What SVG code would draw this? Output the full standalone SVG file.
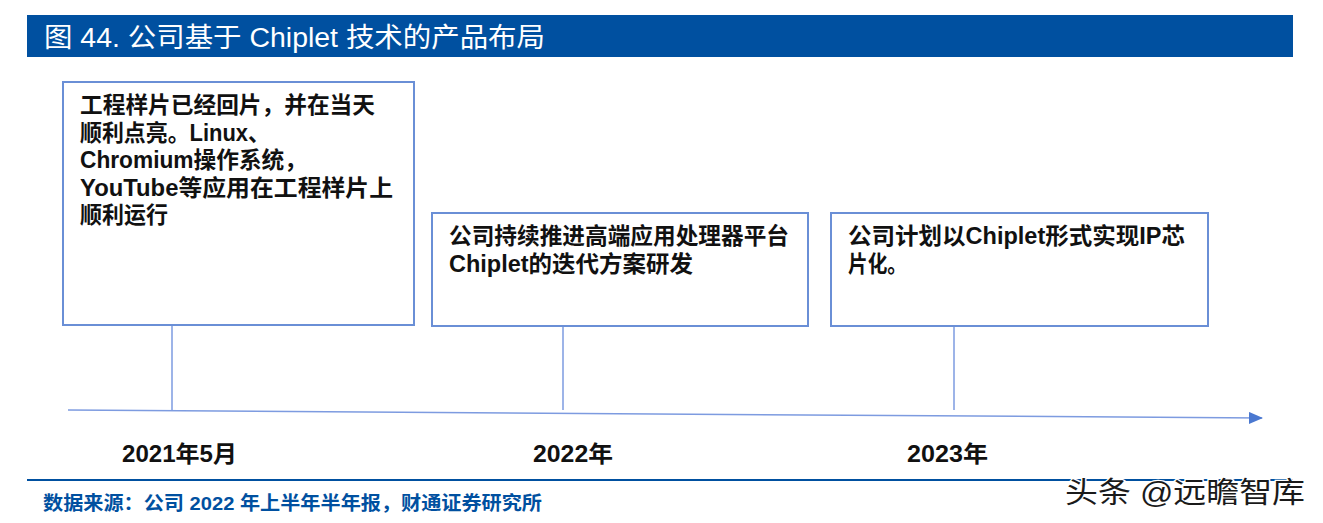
<svg xmlns="http://www.w3.org/2000/svg" width="1323" height="523" viewBox="0 0 1323 523">
<style>
text{font-family:"Liberation Sans","Noto Sans CJK SC",sans-serif}
.box{fill:#fff;stroke:#6a8fd6;stroke-width:2}
.t{font-size:23px;font-weight:bold;fill:#111}
.yr{font-size:23px;font-weight:bold;fill:#111}
.con{stroke:#7d9be0;stroke-width:1.5;fill:none}
</style>
<defs>
<marker id="arr" markerWidth="14" markerHeight="12" refX="13" refY="6" orient="auto" markerUnits="userSpaceOnUse">
<path d="M0,0 L14,6 L0,12 Z" fill="#4a78d0"/>
</marker>
</defs>
<rect x="27" y="15" width="1266" height="42" fill="#0050a0"/>
<text x="44" y="47" font-size="27" fill="#fff" textLength="501" lengthAdjust="spacingAndGlyphs">图 44. 公司基于 Chiplet 技术的产品布局</text>
<g id="connectors">
<line class="con" x1="68" y1="410" x2="1262" y2="418" marker-end="url(#arr)"/>
<line class="con" x1="172" y1="326" x2="172" y2="410"/>
<line class="con" x1="563" y1="327" x2="563" y2="410"/>
<line class="con" x1="954" y1="327" x2="954" y2="410"/>
</g>
<g id="node1">
<rect class="box" x="63" y="82" width="351" height="243"/>
<text class="t" x="80" y="113" textLength="295" lengthAdjust="spacingAndGlyphs">工程样片已经回片，并在当天</text>
<text class="t" x="80" y="141" textLength="190" lengthAdjust="spacingAndGlyphs">顺利点亮。Linux、</text>
<text class="t" x="80" y="168" textLength="227" lengthAdjust="spacingAndGlyphs">Chromium操作系统，</text>
<text class="t" x="80" y="196" textLength="313" lengthAdjust="spacingAndGlyphs">YouTube等应用在工程样片上</text>
<text class="t" x="80" y="223" textLength="88" lengthAdjust="spacingAndGlyphs">顺利运行</text>
</g>
<g id="node2">
<rect class="box" x="432" y="213" width="376" height="113"/>
<text class="t" x="449" y="244" textLength="340" lengthAdjust="spacingAndGlyphs">公司持续推进高端应用处理器平台</text>
<text class="t" x="449" y="272" textLength="244" lengthAdjust="spacingAndGlyphs">Chiplet的迭代方案研发</text>
</g>
<g id="node3">
<rect class="box" x="831" y="213" width="377" height="113"/>
<text class="t" x="848" y="244" textLength="337" lengthAdjust="spacingAndGlyphs">公司计划以Chiplet形式实现IP芯</text>
<text class="t" x="848" y="272" textLength="59" lengthAdjust="spacingAndGlyphs">片化。</text>
</g>
<g id="label1"><text class="yr" x="122" y="462" textLength="115" lengthAdjust="spacingAndGlyphs">2021年5月</text></g>
<g id="label2"><text class="yr" x="533" y="462" textLength="80" lengthAdjust="spacingAndGlyphs">2022年</text></g>
<g id="label3"><text class="yr" x="907" y="462" textLength="81" lengthAdjust="spacingAndGlyphs">2023年</text></g>
<line x1="27" y1="480" x2="1293" y2="480" stroke="#0050a0" stroke-width="2"/>
<text x="43" y="510" font-size="19" font-weight="bold" fill="#0050a0" textLength="499" lengthAdjust="spacingAndGlyphs">数据来源：公司 2022 年上半年半年报，财通证券研究所</text>
<text x="1065" y="503" font-size="29" fill="#1a1a1a" stroke="#fff" stroke-width="2.5" paint-order="stroke" textLength="240" lengthAdjust="spacingAndGlyphs">头条 @远瞻智库</text>
</svg>
